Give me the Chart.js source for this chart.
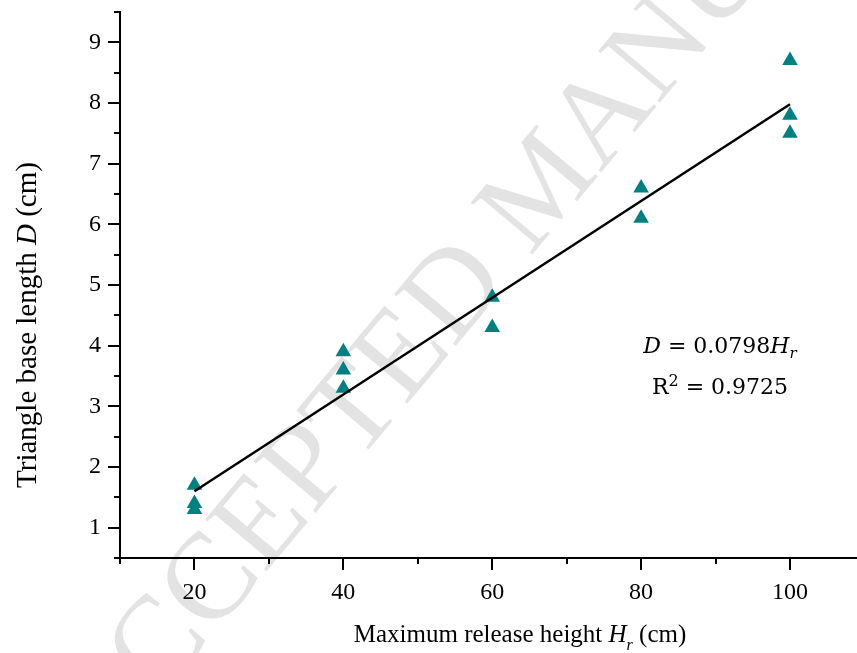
<!DOCTYPE html>
<html>
<head>
<meta charset="utf-8">
<script src="https://cdn.jsdelivr.net/npm/chart.js@4/dist/chart.umd.min.js"></script>
<style>
  html, body { margin: 0; padding: 0; background: #fff; overflow: hidden; }
  #wrap { width: 857px; height: 653px; }
  #chart { width: 857px; height: 653px; display: block; }
</style>
</head>
<body>
<div id="wrap"><canvas id="chart" width="857" height="653"></canvas></div>
<script>
// ------------------ Data ------------------
const releaseHeights = [20, 20, 20, 40, 40, 40, 60, 60, 80, 80, 100, 100, 100];
const baseLengths = [1.7, 1.4, 1.3, 3.9, 3.6, 3.3, 4.8, 4.3, 6.6, 6.1, 8.7, 7.8, 7.5];
const fitHeights = [20, 100];
const fitLengths = [1.6, 7.98];
const xMajorTicks = [20, 40, 60, 80, 100];
const xMinorTicks = [10, 30, 50, 70, 90];
const yMajorTicks = [1, 2, 3, 4, 5, 6, 7, 8, 9];

const serif = '"Liberation Serif", "Times New Roman", serif';
const mathFont = '"DejaVu Serif", serif';

// draw a row of text pieces with different styles, centred on x
function drawRuns(ctx, runs, x, y) {
    let total = 0;
    runs.forEach(function(r) {
        ctx.font = r.font;
        r.w = ctx.measureText(r.text).width;
        total += r.w;
    });
    let cx = x - total / 2;
    runs.forEach(function(r) {
        ctx.font = r.font;
        ctx.fillText(r.text, cx, y + (r.dy || 0));
        cx += r.w;
    });
}

// keep the plot box where the reference has it
function noPadding(s) {
    s.paddingTop = 0;
    s.paddingBottom = 0;
    s.paddingLeft = 0;
    s.paddingRight = 0;
}

const watermark = {
    id: 'watermark',
    beforeDraw: function(chart) {
        const ctx = chart.ctx;
        ctx.save();
        ctx.translate(546, 188);
        ctx.rotate(-50 * Math.PI / 180);
        ctx.font = '123px ' + serif;
        ctx.fillStyle = 'rgba(0,0,0,0.11)';
        ctx.textAlign = 'center';
        ctx.textBaseline = 'middle';
        ctx.fillText('ACCEPTED MANUSCRIPT', 0, 0);
        ctx.restore();
    }
};

const decorations = {
    id: 'decorations',
    afterDraw: function(chart) {
        const ctx = chart.ctx;
        const xs = chart.scales.x, ys = chart.scales.y;
        const area = chart.chartArea;

        // major / minor tick marks
        ctx.save();
        ctx.strokeStyle = '#000';
        ctx.lineWidth = 2;
        ctx.beginPath();
        xs.ticks.forEach(function(t) {
            const px = Math.round(xs.getPixelForValue(t.value));
            const len = xMajorTicks.includes(t.value) ? 12 : 6;
            ctx.moveTo(px, area.bottom);
            ctx.lineTo(px, area.bottom + len);
        });
        ys.ticks.forEach(function(t) {
            const py = Math.round(ys.getPixelForValue(t.value));
            const len = yMajorTicks.includes(t.value) ? 12 : 6;
            ctx.moveTo(area.left, py);
            ctx.lineTo(area.left - len, py);
        });
        ctx.stroke();

        // axis titles
        ctx.fillStyle = '#000';
        ctx.textBaseline = 'alphabetic';
        ctx.textAlign = 'left';
        drawRuns(ctx, [
            { text: 'Maximum release height ', font: '25px ' + serif },
            { text: 'H', font: 'italic 25px ' + serif },
            { text: 'r', font: 'italic 16px ' + serif, dy: 8 },
            { text: ' (cm)', font: '25px ' + serif }
        ], 520, 642);

        ctx.save();
        ctx.translate(36, 325);
        ctx.rotate(-Math.PI / 2);
        drawRuns(ctx, [
            { text: 'Triangle base length ', font: '29px ' + serif },
            { text: 'D', font: 'italic 29px ' + serif },
            { text: ' (cm)', font: '29px ' + serif }
        ], 0, 0);
        ctx.restore();

        // fit equation
        drawRuns(ctx, [
            { text: 'D', font: 'italic 22px ' + mathFont },
            { text: ' = 0.0798', font: '22px ' + mathFont },
            { text: 'H', font: 'italic 22px ' + mathFont },
            { text: 'r', font: 'italic 15px ' + mathFont, dy: 5 }
        ], 720, 353);
        drawRuns(ctx, [
            { text: 'R', font: '22px ' + mathFont },
            { text: '2', font: '16px ' + mathFont, dy: -8 },
            { text: ' = 0.9725', font: '22px ' + mathFont }
        ], 720, 394);
        ctx.restore();
    }
};

new Chart(document.getElementById('chart').getContext('2d'), {
    type: 'scatter',
    data: {
        datasets: [{
            type: 'line',
            data: fitHeights.map(function(h, i) { return { x: h, y: fitLengths[i] }; }),
            borderColor: '#000',
            borderWidth: 2.5,
            pointRadius: 0,
            fill: false
        }, {
            data: releaseHeights.map(function(h, i) { return { x: h, y: baseLengths[i] }; }),
            pointStyle: 'triangle',
            pointRadius: 9,
            pointBackgroundColor: '#008080',
            pointBorderColor: '#008080',
            pointBorderWidth: 0
        }]
    },
    options: {
        responsive: false,
        animation: false,
        devicePixelRatio: 1,
        layout: { autoPadding: false, padding: { top: 12, right: 0, left: 0, bottom: 0 } },
        plugins: { legend: { display: false }, tooltip: { enabled: false } },
        scales: {
            x: {
                type: 'linear',
                min: 10,
                max: 109,
                afterBuildTicks: function(s) {
                    s.ticks = xMinorTicks.concat(xMajorTicks)
                        .sort(function(a, b) { return a - b; })
                        .map(function(v) { return { value: v }; });
                },
                afterFit: function(s) { s.height = 95; noPadding(s); },
                grid: { display: true, drawOnChartArea: false, drawTicks: false },
                border: { display: true, color: '#000', width: 2 },
                ticks: {
                    autoSkip: false,
                    maxRotation: 0,
                    padding: 20,
                    color: '#000',
                    font: { family: serif, size: 24 },
                    callback: function(v) { return xMajorTicks.includes(v) ? String(v) : ''; }
                }
            },
            y: {
                type: 'linear',
                min: 0.5,
                max: 9.5,
                afterFit: function(s) { s.width = 120; noPadding(s); },
                grid: { display: true, drawOnChartArea: false, drawTicks: false },
                border: { display: true, color: '#000', width: 2 },
                ticks: {
                    stepSize: 0.5,
                    autoSkip: false,
                    padding: 19,
                    color: '#000',
                    font: { family: serif, size: 24 },
                    callback: function(v) { return yMajorTicks.includes(v) ? String(v) : ''; }
                }
            }
        }
    },
    plugins: [watermark, decorations]
});
</script>
</body>
</html>
